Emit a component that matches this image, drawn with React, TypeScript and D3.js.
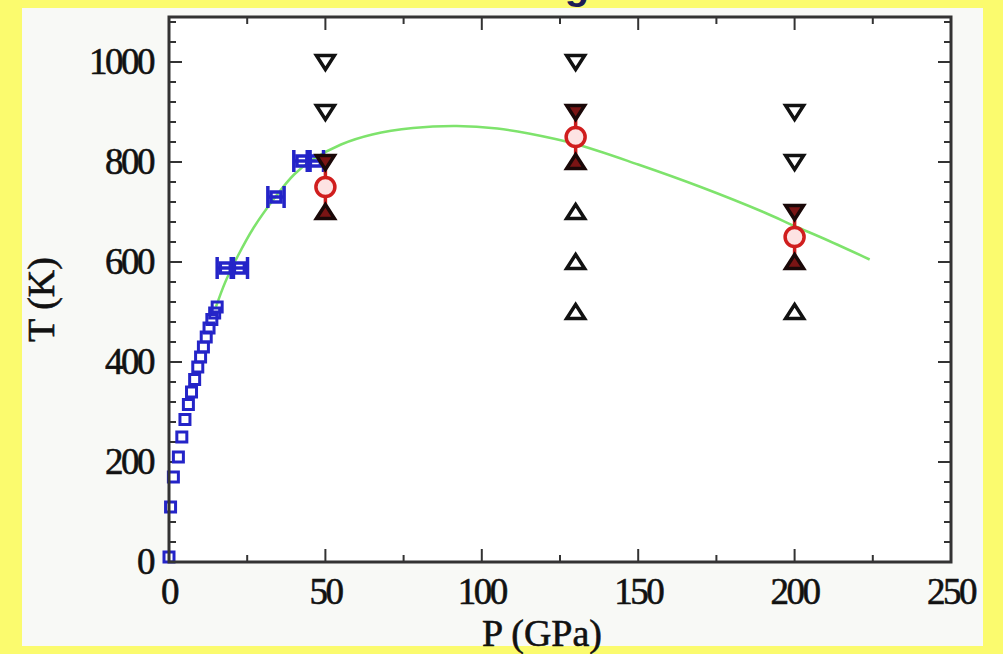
import * as d3 from "d3";

// pressure (GPa) / temperature (K) readings
const squareP = [0, 0.5, 1.4, 3.0, 4.1, 5.1, 6.2, 7.2, 8.2, 9.2, 10.1, 11.0, 11.9, 12.8, 13.7, 14.6, 15.4];
const squareT = [10, 110, 170, 210, 250, 285, 315, 340, 365, 390, 410, 430, 450, 468, 485, 498, 510];

const barP = [18, 22.5, 34.2, 42.5, 46.8];
const barT = [588, 588, 730, 802, 802];
const barErr = 2.6;

const downP = [50, 50, 130, 200, 200];
const downT = [1000, 900, 1000, 900, 800];
const upP = [130, 130, 130, 200];
const upT = [700, 600, 500, 500];

const meltP = [50, 130, 200];
const meltT = [750, 850, 650];
const meltErr = 50;

const curveP = [15, 18, 22, 27, 34, 40, 46, 55, 65, 78, 92, 105, 115, 130, 150, 170, 190, 200, 210, 224];
const curveT = [510, 560, 612, 668, 730, 775, 805, 835, 855, 868, 872, 867, 857, 836, 795, 750, 700, 672, 645, 605];

const xTicks = [0, 50, 100, 150, 200, 250];
const yTicks = [0, 200, 400, 600, 800, 1000];

const W = 1003;
const H = 654;
const FONT = "'Liberation Serif', 'DejaVu Serif', serif";

const x = d3.scaleLinear().domain([0, 250]).range([169, 951]);
const y = d3.scaleLinear().domain([0, 1090]).range([562, 17]);

const triDown = (cx: number, cy: number) =>
  `M${cx - 9},${cy - 6.5} L${cx + 9},${cy - 6.5} L${cx},${cy + 7.5} Z`;
const triUp = (cx: number, cy: number) =>
  `M${cx - 9},${cy + 6.5} L${cx + 9},${cy + 6.5} L${cx},${cy - 7.5} Z`;

export default function App() {
  const [x0, x1] = x.range();
  const [y0, y1] = y.range();
  const xMinor = d3.range(0, 251, 25);
  const yMinor = d3.range(0, 1090, 40);

  const line = d3
    .line<number>()
    .x((_, i) => x(curveP[i]))
    .y((_, i) => y(curveT[i]))
    .curve(d3.curveCatmullRom);

  return (
    <svg width={W} height={H} style={{ position: "absolute", left: 0, top: 0 }}>
      <rect x={0} y={0} width={W} height={H} fill="#fbfb6e" />
      <rect x={22} y={8} width={961} height={638} fill="#f8f9f6" />
      <text x={577} y={-1} fontSize={40} fontWeight="bold" fill="#1c1c55" fontFamily="'Liberation Sans', sans-serif" textAnchor="middle">g</text>

      <rect x={x0} y={y1} width={x1 - x0} height={y0 - y1} fill="#ffffff" />

      {/* ticks */}
      <g stroke="#333" strokeWidth={2}>
        {xMinor.map((v) => {
          const major = v % 50 === 0;
          const len = major ? 13 : 7;
          return (
            <g key={"xt" + v}>
              <line x1={x(v)} x2={x(v)} y1={y0} y2={y0 - len} />
              <line x1={x(v)} x2={x(v)} y1={y1} y2={y1 + len} />
            </g>
          );
        })}
        {yMinor.map((v) => {
          const major = v % 200 === 0;
          const len = major ? 13 : 7;
          return (
            <g key={"yt" + v}>
              <line y1={y(v)} y2={y(v)} x1={x0} x2={x0 + len} />
              <line y1={y(v)} y2={y(v)} x1={x1} x2={x1 - len} />
            </g>
          );
        })}
      </g>

      {/* tick labels */}
      <g fontFamily={FONT} fontSize={37} fill="#111" stroke="#111" strokeWidth={0.6}>
        {xTicks.map((v) => (
          <text key={"xl" + v} x={x(v)} y={y0 + 42} textAnchor="middle" letterSpacing={-2.5}>{v}</text>
        ))}
        {yTicks.map((v) => (
          <text key={"yl" + v} x={x0 - 16} y={y(v) + 12} textAnchor="end" letterSpacing={-2.5}>{v}</text>
        ))}
        <text x={542} y={646} textAnchor="middle" fontSize={38}>P (GPa)</text>
        <text transform={`translate(54,${(y0 + y1) / 2 + 10}) rotate(-90)`} textAnchor="middle" fontSize={38}>T (K)</text>
      </g>

      {/* green fit */}
      <path d={line(curveP) ?? ""} fill="none" stroke="#7ee36c" strokeWidth={2.5} />

      {/* blue squares */}
      <g stroke="#2424c8" strokeWidth={3} fill="none">
        {squareP.map((p, i) => (
          <rect key={"sq" + i} x={x(p) - 5} y={y(squareT[i]) - 5} width={10} height={10} />
        ))}
      </g>

      {/* blue points with horizontal error bars */}
      <g stroke="#2424c8" strokeWidth={3.5} fill="none">
        {barP.map((p, i) => {
          const cx = x(p);
          const cy = y(barT[i]);
          const l = x(p - barErr);
          const r = x(p + barErr);
          return (
            <g key={"eb" + i}>
              <line x1={l} x2={r} y1={cy} y2={cy} />
              <line x1={l} x2={l} y1={cy - 11} y2={cy + 11} />
              <line x1={r} x2={r} y1={cy - 11} y2={cy + 11} />
              <rect x={cx - 5} y={cy - 5} width={10} height={10} />
            </g>
          );
        })}
      </g>

      {/* black triangles */}
      <g stroke="#111" strokeWidth={3.5} fill="none" strokeLinejoin="miter">
        {downP.map((p, i) => (
          <path key={"dn" + i} d={triDown(x(p), y(downT[i]))} />
        ))}
        {upP.map((p, i) => (
          <path key={"up" + i} d={triUp(x(p), y(upT[i]))} />
        ))}
      </g>

      {/* melting estimates: red circle bracketed by triangles */}
      {meltP.map((p, i) => {
        const cx = x(p);
        const cy = y(meltT[i]);
        const hi = y(meltT[i] + meltErr);
        const lo = y(meltT[i] - meltErr);
        return (
          <g key={"m" + i}>
            <line x1={cx} x2={cx} y1={hi} y2={lo} stroke="#c81e1e" strokeWidth={3.5} />
            <path d={triDown(cx, hi)} fill="#7a1414" stroke="#1a0808" strokeWidth={3.5} />
            <path d={triUp(cx, lo)} fill="#7a1414" stroke="#1a0808" strokeWidth={3.5} />
            <circle cx={cx} cy={cy} r={9.5} fill="#fde3e3" stroke="#d01e1e" strokeWidth={3.5} />
          </g>
        );
      })}

      {/* frame */}
      <rect x={x0} y={y1} width={x1 - x0} height={y0 - y1} fill="none" stroke="#333" strokeWidth={3} />
    </svg>
  );
}
